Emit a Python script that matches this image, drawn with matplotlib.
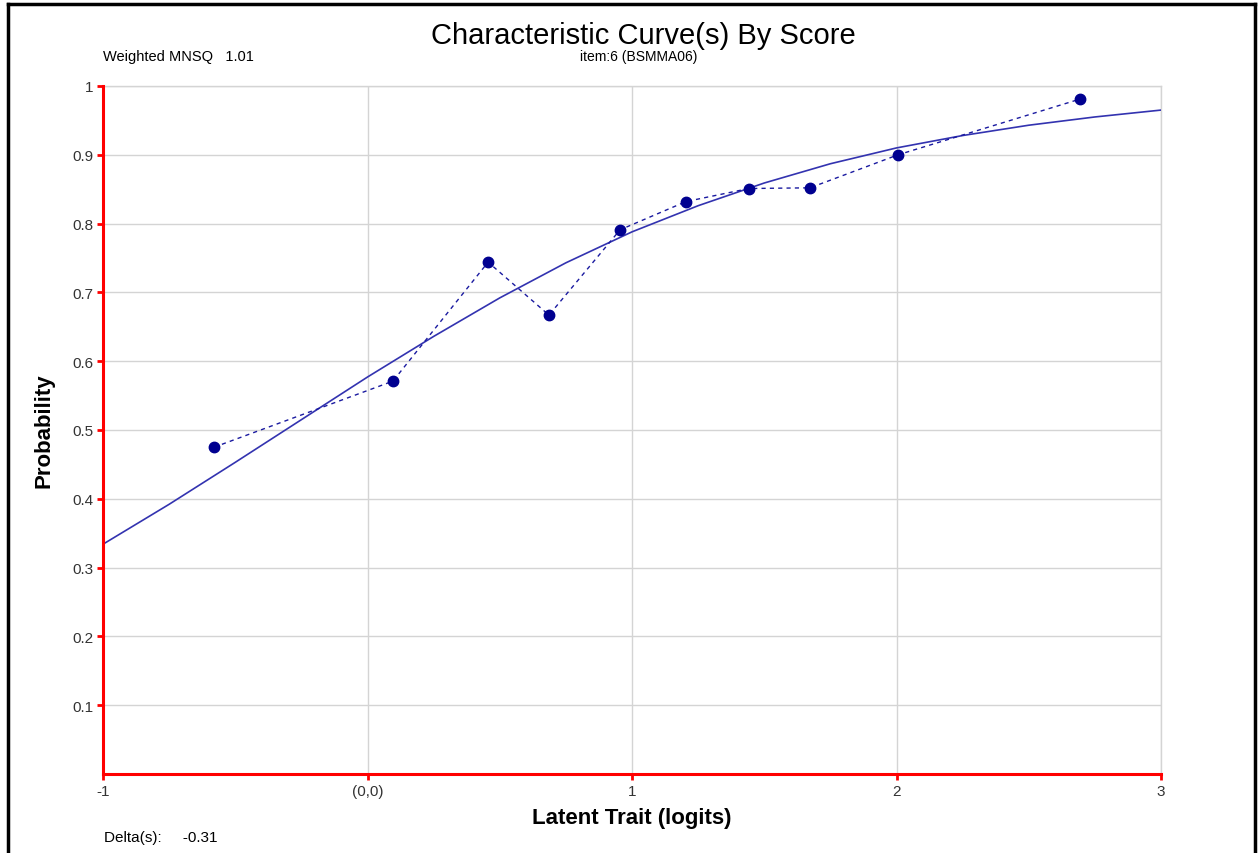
import matplotlib.pyplot as plt
from matplotlib.lines import Line2D

plt.rcParams['font.family'] = ['Liberation Sans', 'DejaVu Sans']

obs_x = [-0.58, 0.096, 0.456, 0.686, 0.955, 1.204, 1.442, 1.673, 2.006, 2.694]
obs_y = [0.475, 0.571, 0.744, 0.667, 0.791, 0.832, 0.851, 0.852, 0.900, 0.981]

# model curve sampled along the latent trait
curve_x = [-1.0, -0.75, -0.5, -0.25, 0.0, 0.25, 0.5, 0.75, 1.0,
           1.25, 1.5, 1.75, 2.0, 2.25, 2.5, 2.75, 3.0]
curve_y = [0.334, 0.392, 0.453, 0.515, 0.577, 0.636, 0.692, 0.743, 0.788,
           0.826, 0.859, 0.887, 0.910, 0.928, 0.943, 0.955, 0.965]

x_ticks = [-1, 0, 1, 2, 3]
x_labels = ['-1', '(0,0)', '1', '2', '3']
y_ticks = [0.1, 0.2, 0.3, 0.4, 0.5, 0.6, 0.7, 0.8, 0.9, 1.0]
y_labels = ['0.1', '0.2', '0.3', '0.4', '0.5', '0.6', '0.7', '0.8', '0.9', '1']

W, H = 1259, 854
fig = plt.figure(figsize=(W / 100, H / 100), dpi=100)
ax = fig.add_axes([103 / W, 1 - 775 / H, (1161 - 103) / W, (775 - 87) / H])

ax.set_xlim(-1, 3)
ax.set_ylim(0, 1)

ax.plot(curve_x, curve_y, color='#3333b0', lw=1.2, zorder=3)
ax.plot(obs_x, obs_y, color='#1a1aa0', lw=1.0, ls=(0, (3, 3)), zorder=3)
ax.plot(obs_x, obs_y, 'o', color='#000090', ms=7.5, zorder=4)

ax.set_xticks(x_ticks)
ax.set_xticklabels(x_labels)
ax.set_yticks(y_ticks)
ax.set_yticklabels(y_labels)
ax.grid(True, color='#d4d4d4', lw=1.0, zorder=0)
ax.tick_params(axis='both', colors='red', length=4, width=2, labelsize=11,
               labelcolor='#333333', pad=3)

for side in ['top', 'right']:
    ax.spines[side].set_color('#d4d4d4')
    ax.spines[side].set_linewidth(1.0)
for side in ['left', 'bottom']:
    ax.spines[side].set_color('red')
    ax.spines[side].set_linewidth(2.2)
    ax.spines[side].set_zorder(5)

ax.set_xlabel('Latent Trait (logits)', fontsize=16, fontweight='bold', labelpad=7)
ax.set_ylabel('Probability', fontsize=16, fontweight='bold', labelpad=13)

fig.text(643 / W, 1 - 44 / H, 'Characteristic Curve(s) By Score', fontsize=21,
         ha='center', va='baseline')
fig.text(639 / W, 1 - 61 / H, 'item:6 (BSMMA06)', fontsize=10, ha='center', va='baseline')
fig.text(103 / W, 1 - 61 / H, 'Weighted MNSQ   1.01', fontsize=10.5, ha='left', va='baseline')
fig.text(104 / W, 1 - 838 / H, 'Delta(s):     -0.31', fontsize=11, ha='left', va='center')

# outer frame (no bottom edge visible)
bx0, bx1, by1 = 8 / W, 1255 / W, 1 - 5 / H
fig.add_artist(Line2D([bx0, bx0], [0, by1], color='black', lw=2.5, transform=fig.transFigure))
fig.add_artist(Line2D([bx1, bx1], [0, by1], color='black', lw=2.5, transform=fig.transFigure))
fig.add_artist(Line2D([bx0, bx1], [by1, by1], color='black', lw=2.5, transform=fig.transFigure))

fig.savefig('out.png', dpi=100)
